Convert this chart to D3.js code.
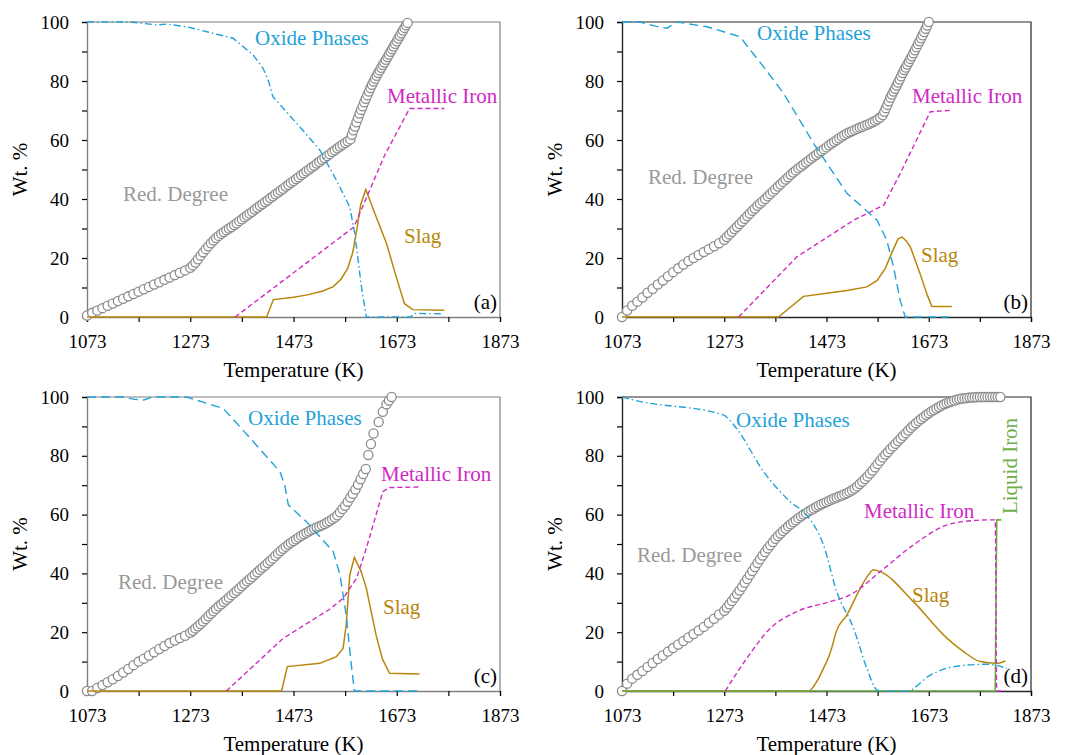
<!DOCTYPE html>
<html>
<head>
<meta charset="utf-8">
<script src="https://cdn.jsdelivr.net/npm/d3@7"></script>
<style>
  body { margin: 0; background: #fff; }
  svg text { font-family: "Liberation Serif", "Times New Roman", serif; }
</style>
</head>
<body>
<div id="chart"></div>
<script>
const FONT = '"Liberation Serif", "Times New Roman", serif'

const xTicks = [1073,1173,1273,1373,1473,1573,1673,1773,1873]
const xLabels = [1073,1273,1473,1673,1873]
const yTicks = [0,10,20,30,40,50,60,70,80,90,100]
const yLabels = [0,20,40,60,80,100]

// Red. Degree markers [T (K), %]
const redA = [[1073,0.5],[1083,1.4],[1093,2.2],[1103,3.0],[1113,3.8],[1123,4.6],[1133,5.4],[1143,6.2],[1153,7.0],[1163,7.8],
  [1173,8.6],[1183,9.4],[1193,10.2],[1203,11.0],[1213,11.8],[1223,12.6],[1233,13.4],[1243,14.2],[1253,15.0],[1263,15.8],[1273,16.7],
  [1278,17.5],[1283,18.5],[1288,19.6],[1293,20.8],[1298,21.9],[1303,23.0],[1308,24.0],[1313,25.0],[1318,25.9],[1323,26.8],
  [1328,27.5],[1333,28.2],[1338,28.8],[1343,29.4],[1348,30.0],[1353,30.5],[1358,31.2],[1363,31.8],[1368,32.5],[1373,33.1],
  [1378,33.8],[1383,34.4],[1388,35.1],[1393,35.7],[1398,36.4],[1403,37.0],[1408,37.7],[1413,38.3],[1418,39.0],[1423,39.6],
  [1428,40.3],[1433,40.9],[1438,41.6],[1443,42.2],[1448,42.9],[1453,43.5],[1458,44.2],[1463,44.8],[1468,45.5],[1473,46.1],
  [1478,46.8],[1483,47.4],[1488,48.1],[1493,48.7],[1498,49.4],[1503,50.0],[1508,50.7],[1513,51.3],[1518,52.0],[1523,52.6],
  [1528,53.3],[1533,53.9],[1538,54.6],[1543,55.2],[1548,55.9],[1553,56.5],[1558,57.2],[1563,57.8],[1568,58.4],[1573,59.0],
  [1578,59.6],[1583,60.2],[1586,61.8],[1589,63.3],[1592,64.6],[1595,66],[1598,67.5],[1601,69],[1604,70.2],[1607,71.4],
  [1610,72.8],[1613,74],[1616,75.2],[1619,76.4],[1622,77.6],[1625,78.7],[1628,79.8],[1631,80.8],[1634,81.8],[1637,82.7],
  [1640,83.6],[1643,84.5],[1646,85.4],[1649,86.3],[1652,87.2],[1655,88.1],[1658,89],[1661,89.9],[1664,90.8],[1667,91.7],
  [1670,92.6],[1673,93.5],[1676,94.4],[1679,95.3],[1682,96.2],[1685,97.1],[1688,98],[1691,98.9],[1694,99.7]]

const redB = [[1073,0],[1083,2.2],[1093,3.8],[1103,5.2],[1113,6.6],[1123,8.2],[1133,9.6],[1143,11],[1153,12.4],[1163,13.8],
  [1173,15.2],[1183,16.5],[1193,17.8],[1203,19],[1213,20],[1223,21],[1233,22],[1243,23],[1253,24],[1263,25],[1273,26.2],
  [1278,27.1],[1283,28],[1288,28.9],[1293,29.8],[1298,30.6],[1303,31.5],[1308,32.4],[1313,33.3],[1318,34.2],[1323,35.1],
  [1328,36],[1333,36.8],[1338,37.7],[1343,38.5],[1348,39.2],[1353,40],[1358,40.9],[1363,41.7],[1368,42.5],[1373,43.3],
  [1378,44.2],[1383,45],[1388,45.8],[1393,46.6],[1398,47.4],[1403,48.2],[1408,49],[1413,49.7],[1418,50.4],[1423,51],
  [1428,51.7],[1433,52.4],[1438,53],[1443,53.7],[1448,54.4],[1453,55],[1458,55.7],[1463,56.3],[1468,56.9],[1473,57.5],
  [1478,58.2],[1483,58.8],[1488,59.4],[1493,60],[1498,60.6],[1503,61.2],[1508,61.7],[1513,62.2],[1518,62.6],[1523,63],
  [1528,63.4],[1533,63.8],[1538,64.2],[1543,64.5],[1548,64.9],[1553,65.2],[1558,65.6],[1563,66],[1568,66.5],[1573,67],
  [1578,67.6],[1583,68.5],[1586,69.6],[1589,70.8],[1592,71.9],[1595,73.1],[1598,74.3],[1601,75.4],[1604,76.4],[1607,77.4],
  [1610,78.5],[1613,79.5],[1616,80.5],[1619,81.6],[1622,82.7],[1625,83.7],[1628,84.6],[1631,85.6],[1634,86.5],[1637,87.5],
  [1640,88.4],[1643,89.4],[1646,90.4],[1649,91.4],[1652,92.5],[1655,93.5],[1658,94.5],[1661,95.5],[1664,96.6],[1667,97.7],
  [1670,98.8],[1673,100]]

const redC = [[1073,0],[1083,0],[1093,1],[1103,2],[1113,3],[1123,4],[1133,5.1],[1143,6.3],[1153,7.5],[1163,8.8],
  [1173,10],[1183,11],[1193,12.1],[1203,13.2],[1213,14.3],[1223,15.3],[1233,16.3],[1243,17.2],[1253,18],[1263,18.8],[1273,19.8],
  [1278,20.5],[1283,21.3],[1288,22],[1293,22.8],[1298,23.6],[1303,24.5],[1308,25.4],[1313,26.3],[1318,27.1],[1323,28],
  [1328,28.8],[1333,29.5],[1338,30.3],[1343,31],[1348,31.8],[1353,32.6],[1358,33.3],[1363,34.1],[1368,34.9],[1373,35.7],
  [1378,36.5],[1383,37.3],[1388,38],[1393,38.8],[1398,39.6],[1403,40.4],[1408,41.2],[1413,42],[1418,42.7],[1423,43.5],
  [1428,44.3],[1433,45.1],[1438,46],[1443,46.8],[1448,47.6],[1453,48.4],[1458,49.1],[1463,49.8],[1468,50.4],[1473,51],
  [1478,51.6],[1483,52.2],[1488,52.8],[1493,53.3],[1498,53.8],[1503,54.3],[1508,54.8],[1513,55.2],[1518,55.6],[1523,56],
  [1528,56.4],[1533,56.8],[1538,57.3],[1543,57.8],[1548,58.4],[1553,59],[1558,59.8],[1563,60.8],[1568,61.9],[1573,63],
  [1578,64.4],[1583,65.8],[1588,67.1],[1593,68.5],[1598,70.2],[1603,72],[1608,73.8],[1613,75.5],[1618,80.3],[1623,84],
  [1628,87.6],[1638,91.5],[1646,95],[1653,97.5],[1658,98.8],[1663,100]]

const redD = [[1073,0],[1083,2.5],[1093,4.2],[1103,5.5],[1113,6.8],[1123,8.2],[1133,9.5],[1143,10.9],[1153,12.1],[1163,13.4],
  [1173,14.6],[1183,15.8],[1193,17],[1203,18.2],[1213,19.4],[1223,20.6],[1233,21.8],[1243,23.2],[1253,24.6],[1263,26],[1273,27.3],
  [1278,28.4],[1283,29.5],[1288,30.6],[1293,31.8],[1298,33],[1303,34.2],[1308,35.5],[1313,36.8],[1318,38.1],[1323,39.5],
  [1328,40.8],[1333,42.2],[1338,43.5],[1343,44.8],[1348,46.1],[1353,47.3],[1358,48.5],[1363,49.6],[1368,50.7],[1373,51.8],
  [1378,52.7],[1383,53.6],[1388,54.4],[1393,55.2],[1398,56],[1403,56.7],[1408,57.4],[1413,58.1],[1418,58.8],[1423,59.4],
  [1428,60],[1433,60.5],[1438,61.1],[1443,61.6],[1448,62.1],[1453,62.6],[1458,63.1],[1463,63.5],[1468,63.9],[1473,64.3],
  [1478,64.7],[1483,65.1],[1488,65.5],[1493,65.8],[1498,66.2],[1503,66.5],[1508,66.9],[1513,67.3],[1518,67.8],[1523,68.3],
  [1528,68.9],[1533,69.6],[1538,70.4],[1543,71.2],[1548,72.1],[1553,73],[1558,74],[1563,75],[1568,76.1],[1573,77.2],
  [1578,78.3],[1583,79.4],[1588,80.4],[1593,81.3],[1598,82.3],[1603,83.2],[1608,84.1],[1613,85],[1618,85.9],[1623,86.8],
  [1628,87.7],[1633,88.6],[1638,89.5],[1643,90.3],[1648,91.1],[1653,91.8],[1658,92.5],[1663,93.2],[1668,93.9],[1673,94.5],
  [1678,95.1],[1683,95.6],[1688,96.1],[1693,96.6],[1698,97.1],[1703,97.5],[1708,97.9],[1713,98.2],[1718,98.5],[1723,98.8],
  [1728,99.1],[1733,99.3],[1738,99.5],[1743,99.6],[1748,99.7],[1753,99.8],[1758,99.85],[1763,99.9],[1768,99.95],[1773,100],
  [1778,100],[1783,100],[1788,100],[1793,100],[1798,100],[1803,100],[1808,100],[1813,100]]

// phase curves [T (K), wt%]
const oxideA = [[1073,100],[1157,100],[1208,99],[1227,99.3],[1266,98.4],[1356,94.5],[1395,88.8],[1414,84.3],[1424,80.3],[1433,74.7],[1485,64.5],[1524,56.6],[1556,46.4],[1582,37.3],[1592,28],[1604,11],[1614,0],[1700,0],[1706,1.2],[1763,1.1]]
const metalA = [[1360,0],[1590,30.5],[1650,55],[1698,70.7],[1765,70.7]]
const slagA = [[1073,0],[1421,0],[1434,5.9],[1470,6.6],[1500,7.5],[1530,8.8],[1550,10.3],[1565,12.8],[1578,16.5],[1588,22],[1596,30],[1603,38],[1613,43.2],[1633,34],[1653,25],[1672,13.6],[1688,4.5],[1704,2.5],[1765,2.3]]

const oxideB = [[1073,100],[1109,100],[1140,98.5],[1161,97.9],[1181,100],[1239,98.4],[1304,95],[1324,90.5],[1350,84.8],[1389,75.8],[1448,58.8],[1513,41.9],[1572,32.8],[1591,26],[1604,17],[1617,5.7],[1627,0],[1712,0]]
const metalB = [[1301,0],[1415,20.4],[1526,32.8],[1585,37.9],[1617,48.6],[1676,69.6],[1718,70.1]]
const slagB = [[1073,0],[1379,0],[1428,7],[1470,8],[1513,9],[1552,10.2],[1572,12.4],[1588,16.5],[1600,21.5],[1613,26.5],[1621,27.1],[1629,25.8],[1637,23.8],[1656,14.7],[1670,7.5],[1679,3.6],[1718,3.6]]

const oxideC = [[1073,100],[1144,100],[1165,99.2],[1183,99],[1200,100],[1266,100],[1337,96.1],[1369,89.9],[1447,74.6],[1456,70],[1463,63.3],[1498,57.6],[1550,47.4],[1563,39.5],[1575,25.9],[1585,8.8],[1591,0],[1717,0]]
const metalC = [[1343,0],[1453,17.9],[1543,27.8],[1569,31.5],[1595,38.3],[1614,48.5],[1646,67.8],[1659,69.2],[1717,69.4]]
const slagC = [[1073,0],[1450,0],[1461,8.3],[1524,9.4],[1556,11.7],[1569,14.5],[1575,22.4],[1582,39.5],[1591,45.4],[1604,40.6],[1614,35],[1633,19],[1645,11],[1659,6],[1717,5.8]]

const oxideD = [[1073,100],[1100,98.8],[1271,93.9],[1297,89.3],[1350,74.6],[1402,64.4],[1434,59.9],[1467,49.7],[1493,33.8],[1526,21.3],[1552,7.7],[1572,0.3],[1580,0],[1630,0],[1676,5.4],[1722,8.3],[1787,9.1],[1826,7.7]]
const metalD = [[1275,0],[1317,11.1],[1363,21.3],[1415,27],[1480,30.4],[1519,32.7],[1578,40.6],[1643,49.7],[1709,56.5],[1750,57.8],[1787,58.2],[1803,58.2],[1806,0],[1823,0]]
const slagD = [[1073,0],[1438,0],[1455,3.5],[1467,7.7],[1477,11.5],[1483,14.5],[1492,20.2],[1513,25.9],[1539,34.9],[1555,39.5],[1565,41.2],[1578,40.6],[1643,30.4],[1709,17.9],[1741,13.4],[1774,10],[1806,9.4],[1823,10.2]]
const liquidD = [[1073,0],[1803,0],[1806,58.2],[1815,58.2]]

const C = { oxide: '#1fa2d8', metal: '#d02ac4', slag: '#b8860b', liquid: '#70ad47', red: '#8c8c8c' }
const dashDot = '7,3,1.5,3'
const longDash = '9,5'

const svg = d3.select('#chart').append('svg')
  .attr('width', 1067)
  .attr('height', 755)
  .attr('font-family', FONT)

const panels = [
  { tag: '(a)', x0: 87, x1: 500, y0: 22, y1: 317, frame: '#7f7f7f', curve: d3.curveLinear,
    red: redA, oxide: oxideA, oxDash: dashDot, metal: metalA, slag: slagA,
    lab: { ox: [255, 45], me: [387, 103], rd: [123, 201], sl: [404, 243] } },
  { tag: '(b)', x0: 622, x1: 1031, y0: 22, y1: 317, frame: '#262626', curve: d3.curveLinear,
    red: redB, oxide: oxideB, oxDash: longDash, metal: metalB, slag: slagB,
    lab: { ox: [757, 40], me: [912, 103], rd: [648, 184], sl: [921, 262] } },
  { tag: '(c)', x0: 87, x1: 500, y0: 397, y1: 691, frame: '#7f7f7f', curve: d3.curveLinear,
    red: redC, oxide: oxideC, oxDash: longDash, metal: metalC, slag: slagC,
    lab: { ox: [248, 425], me: [381, 481], rd: [118, 589], sl: [383, 614] } },
  { tag: '(d)', x0: 622, x1: 1031, y0: 397, y1: 691, frame: '#262626', curve: d3.curveMonotoneX,
    red: redD, oxide: oxideD, oxDash: dashDot, metal: metalD, slag: slagD, liquid: liquidD,
    lab: { ox: [736, 427], me: [864, 518], rd: [637, 562], sl: [912, 602] } }
]

panels.forEach(p => {
  const x = d3.scaleLinear().domain([1073, 1873]).range([p.x0, p.x1])
  const y = d3.scaleLinear().domain([0, 100]).range([p.y1, p.y0])
  const g = svg.append('g')

  const line = d3.line().x(d => x(d[0])).y(d => y(d[1])).curve(p.curve)
  const straight = d3.line().x(d => x(d[0])).y(d => y(d[1]))

  // frame (top and right)
  g.append('path')
    .attr('d', `M${p.x0},${p.y0}H${p.x1}V${p.y1}`)
    .attr('fill', 'none')
    .attr('stroke', p.frame)
    .attr('stroke-width', 1.2)

  const xAxis = d3.axisBottom(x)
    .tickValues(xTicks)
    .tickSize(5)
    .tickPadding(13)
    .tickFormat(d => xLabels.includes(d) ? d : '')
  const yAxis = d3.axisLeft(y)
    .tickValues(yTicks)
    .tickSize(5)
    .tickPadding(13)
    .tickFormat(d => yLabels.includes(d) ? d : '')

  ;[[xAxis, `translate(0,${p.y1})`], [yAxis, `translate(${p.x0},0)`]].forEach(([ax, tr]) => {
    const a = g.append('g').attr('transform', tr).call(ax)
      .attr('font-family', FONT)
      .attr('font-size', 19)
    a.selectAll('text').attr('fill', '#000')
    a.select('.domain').attr('stroke', p.frame).attr('stroke-width', 1.4)
    a.selectAll('.tick line').attr('stroke', '#000').attr('stroke-width', 1.2)
  })

  // Red. Degree markers
  g.append('g').selectAll('circle')
    .data(p.red)
    .enter()
    .append('circle')
    .attr('cx', d => x(d[0]))
    .attr('cy', d => y(d[1]))
    .attr('r', 4.6)
    .attr('fill', '#fff')
    .attr('stroke', C.red)
    .attr('stroke-width', 1.3)

  g.append('path').attr('d', line(p.slag))
    .attr('fill', 'none').attr('stroke', C.slag).attr('stroke-width', 1.5)
  if (p.liquid) {
    g.append('path').attr('d', straight(p.liquid))
      .attr('fill', 'none').attr('stroke', C.liquid).attr('stroke-width', 1.6)
  }
  g.append('path').attr('d', line(p.metal))
    .attr('fill', 'none').attr('stroke', C.metal).attr('stroke-width', 1.4)
    .attr('stroke-dasharray', '5,3')
  g.append('path').attr('d', line(p.oxide))
    .attr('fill', 'none').attr('stroke', C.oxide).attr('stroke-width', 1.4)
    .attr('stroke-dasharray', p.oxDash)

  const label = (txt, pos, col) => g.append('text')
    .attr('x', pos[0]).attr('y', pos[1])
    .attr('fill', col)
    .attr('font-size', 21)
    .text(txt)
  label('Oxide Phases', p.lab.ox, C.oxide)
  label('Metallic Iron', p.lab.me, C.metal)
  label('Red. Degree', p.lab.rd, '#999')
  label('Slag', p.lab.sl, C.slag)

  if (p.liquid) {
    g.append('text')
      .attr('transform', `translate(${p.x1 - 14},466) rotate(-90)`)
      .attr('text-anchor', 'middle')
      .attr('fill', C.liquid)
      .attr('font-size', 21)
      .text('Liquid Iron')
  }

  g.append('text')
    .attr('x', p.x1 - 3).attr('y', p.y1 - 8)
    .attr('text-anchor', 'end')
    .attr('fill', '#000')
    .attr('font-size', 21)
    .text(p.tag)

  // axis titles
  g.append('text')
    .attr('x', (p.x0 + p.x1) / 2).attr('y', p.y1 + 60)
    .attr('text-anchor', 'middle')
    .attr('font-size', 21)
    .text('Temperature (K)')
  g.append('text')
    .attr('transform', `translate(${p.x0 - 60},${(p.y0 + p.y1) / 2}) rotate(-90)`)
    .attr('text-anchor', 'middle')
    .attr('font-size', 21)
    .text('Wt. %')
})
</script>
</body>
</html>
